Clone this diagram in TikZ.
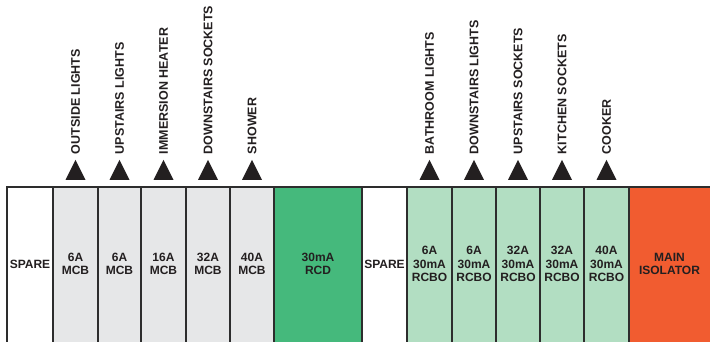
\documentclass[tikz,border=0pt]{standalone}
\usepackage{fontspec}
\setmainfont{Liberation Sans}
\usetikzlibrary{positioning,shapes.geometric}

\definecolor{ink}{RGB}{35,31,32}
\definecolor{rulegrey}{RGB}{45,45,45}
\definecolor{mcbgrey}{RGB}{230,231,232}
\definecolor{rcdgreen}{RGB}{69,185,124}
\definecolor{rcbogreen}{RGB}{178,222,194}
\definecolor{isored}{RGB}{241,92,48}

\tikzset{
 brkr/.style={font=\bfseries\fontsize{12}{13.5}\selectfont,text=ink,align=center,inner sep=0pt},
 circ/.style={font=\bfseries\fontsize{12.5}{13}\selectfont,text=ink,rotate=90,anchor=west,inner sep=0pt},
 trig/.style={isosceles triangle,isosceles triangle stretches,shape border rotate=90,
  minimum width=20pt,minimum height=20pt,inner sep=0pt,fill=ink,anchor=south},
 rule/.style={draw=rulegrey,line width=2pt}
}

\begin{document}
\begin{tikzpicture}[x=1pt,y=1pt]
 \useasboundingbox (0,0) rectangle (710,342);
 \clip (0,0) rectangle (710,342);
 % board
 \fill[white] (7,-5) rectangle (53,155);
 \fill[mcbgrey] (53,-5) rectangle (274,155);
 \fill[rcdgreen] (274,-5) rectangle (362,155);
 \fill[white] (362,-5) rectangle (407,155);
 \fill[rcbogreen] (407,-5) rectangle (629,155);
 \fill[isored] (629,-5) rectangle (715,155);
 \draw[rule] (7,-5) -- (7,155) -- (715,155);
 \draw[rule] (53,-5) -- (53,155);
 \draw[rule] (98,-5) -- (98,155);
 \draw[rule] (141,-5) -- (141,155);
 \draw[rule] (186,-5) -- (186,155);
 \draw[rule] (230,-5) -- (230,155);
 \draw[rule] (274,-5) -- (274,155);
 \draw[rule] (362,-5) -- (362,155);
 \draw[rule] (407,-5) -- (407,155);
 \draw[rule] (452,-5) -- (452,155);
 \draw[rule] (496,-5) -- (496,155);
 \draw[rule] (540,-5) -- (540,155);
 \draw[rule] (584,-5) -- (584,155);
 \draw[rule] (629,-5) -- (629,155);
 % devices
 \node (brkr 1) at (30,78) [brkr] {SPARE};
 \node (brkr 2) at (75.5,78) [brkr] {6A\\MCB};
 \node (brkr 3) at (119.5,78) [brkr] {6A\\MCB};
 \node (brkr 4) at (163.5,78) [brkr] {16A\\MCB};
 \node (brkr 5) at (208,78) [brkr] {32A\\MCB};
 \node (brkr 6) at (252,78) [brkr] {40A\\MCB};
 \node (brkr 7) at (318,78) [brkr] {30mA\\RCD};
 \node (brkr 8) at (384.5,78) [brkr] {SPARE};
 \node (brkr 9) at (429.5,78) [brkr] {6A\\30mA\\RCBO};
 \node (brkr 10) at (474,78) [brkr] {6A\\30mA\\RCBO};
 \node (brkr 11) at (518,78) [brkr] {32A\\30mA\\RCBO};
 \node (brkr 12) at (562,78) [brkr] {32A\\30mA\\RCBO};
 \node (brkr 13) at (606.5,78) [brkr] {40A\\30mA\\RCBO};
 \node (brkr 14) at (669.5,78) [brkr] {MAIN\\ISOLATOR};
 % circuits
 \node (trig 2) at (75.5,162) [trig] {};
 \node (trig 3) at (119.5,162) [trig] {};
 \node (trig 4) at (163.5,162) [trig] {};
 \node (trig 5) at (208,162) [trig] {};
 \node (trig 6) at (252,162) [trig] {};
 \node (trig 9) at (429.5,162) [trig] {};
 \node (trig 10) at (474,162) [trig] {};
 \node (trig 11) at (518,162) [trig] {};
 \node (trig 12) at (562,162) [trig] {};
 \node (trig 13) at (606.5,162) [trig] {};
 \node (circ 2) [above=5pt of trig 2,circ] {OUTSIDE LIGHTS};
 \node (circ 3) [above=5pt of trig 3,circ] {UPSTAIRS LIGHTS};
 \node (circ 4) [above=5pt of trig 4,circ] {IMMERSION HEATER};
 \node (circ 5) [above=5pt of trig 5,circ] {DOWNSTAIRS SOCKETS};
 \node (circ 6) [above=5pt of trig 6,circ] {SHOWER};
 \node (circ 9) [above=5pt of trig 9,circ] {BATHROOM LIGHTS};
 \node (circ 10) [above=5pt of trig 10,circ] {DOWNSTAIRS LIGHTS};
 \node (circ 11) [above=5pt of trig 11,circ] {UPSTAIRS SOCKETS};
 \node (circ 12) [above=5pt of trig 12,circ] {KITCHEN SOCKETS};
 \node (circ 13) [above=5pt of trig 13,circ] {COOKER};
\end{tikzpicture}
\end{document}
